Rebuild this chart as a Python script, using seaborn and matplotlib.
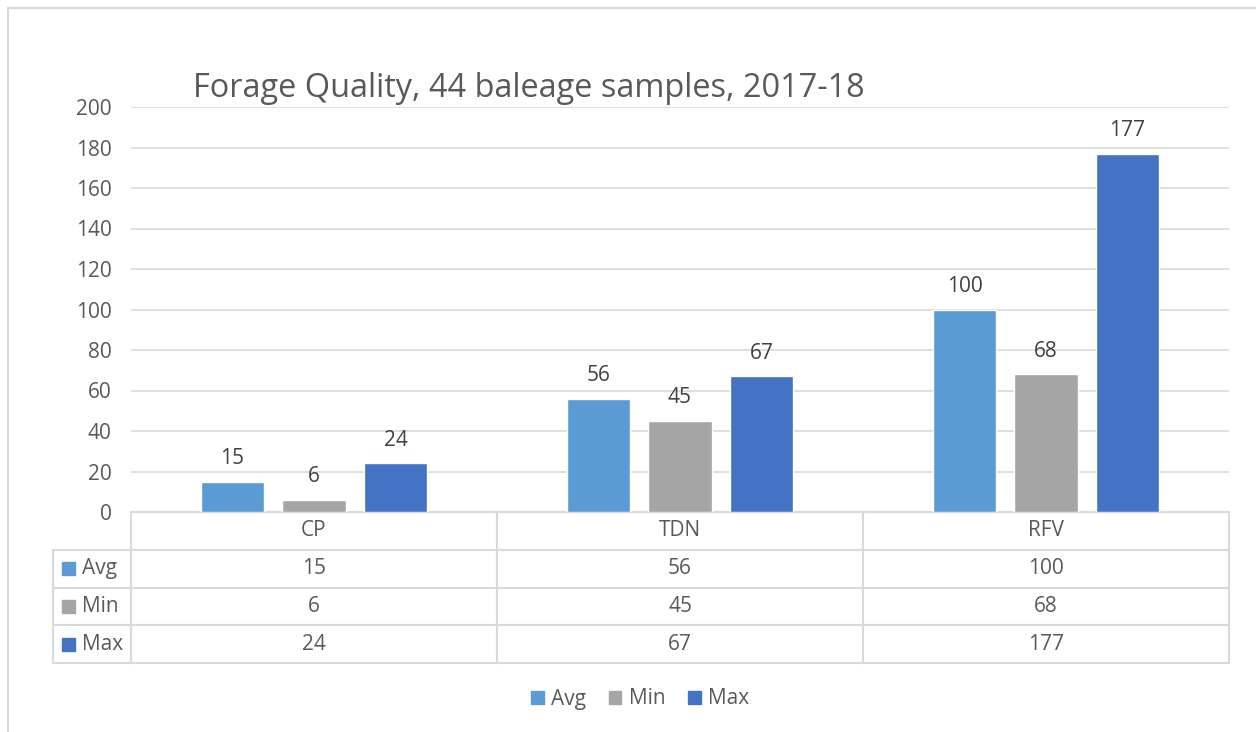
import numpy as np
import pandas as pd
import matplotlib.pyplot as plt
import seaborn as sns
from matplotlib.patches import Rectangle

# data
categories = ["CP", "TDN", "RFV"]
series = ["Avg", "Min", "Max"]
avg_vals = [15, 56, 100]
min_vals = [6, 45, 68]
max_vals = [24, 67, 177]
yticks = [0, 20, 40, 60, 80, 100, 120, 140, 160, 180, 200]
title = "Forage Quality, 44 baleage samples, 2017-18"

colors = ["#5B9BD5", "#A5A5A5", "#4472C4"]
txt = "#595959"
grid = "#D9D9D9"
fs = 15

sns.set_theme(style="white")
plt.rcParams["font.family"] = ["Open Sans", "DejaVu Sans"]

df = pd.DataFrame({
    "cat": categories * 3,
    "series": [s for s in series for _ in categories],
    "value": avg_vals + min_vals + max_vals,
})

fig = plt.figure(figsize=(12.56, 7.32), dpi=100)
ax = fig.add_axes([131 / 1256, 1 - 512 / 732, 1098 / 1256, 405 / 732])

sns.barplot(data=df, x="cat", y="value", hue="series", palette=colors,
            width=0.668, gap=0.215, saturation=1, ax=ax, legend=False,
            zorder=3, errorbar=None)

for c in ax.containers:
    ax.bar_label(c, padding=9, fontsize=fs, color="#404040")

ax.set_ylim(0, 200)
ax.set_yticks(yticks)
ax.set_xlim(-0.5, 2.5)
ax.yaxis.grid(True, color=grid, linewidth=1.2, zorder=0)
ax.set_axisbelow(True)
ax.set_xlabel("")
ax.set_ylabel("")
ax.set_xticks([])
ax.tick_params(axis="y", length=0, pad=14, labelsize=fs, labelcolor=txt)
for s in ax.spines.values():
    s.set_visible(False)

# data table below the axis
values = [avg_vals, min_vals, max_vals]
cell_text = [[str(v) for v in row] for row in values]
lab_w = 78 / 1098
tab_h = 151 / 405
tbl = ax.table(cellText=cell_text, rowLabels=series,
               colLabels=categories, colWidths=[1 / 3] * 3,
               cellLoc="center", rowLoc="left",
               bbox=[0, -tab_h, 1, tab_h])
tbl._autoColumns = []
tbl.auto_set_font_size(False)
tbl.set_fontsize(fs)
for (r, c), cell in tbl.get_celld().items():
    cell.set_edgecolor(grid)
    cell.set_linewidth(1.5)
    cell.get_text().set_color(txt)
    if c == -1:
        cell.set_width(lab_w)
        cell.PAD = 0.37

# legend keys inside row label cells
row_h = tab_h / 4
kw, kh = 13 / 1098, 13 / 405
for i, col in enumerate(colors):
    yc = -row_h * (i + 1.5)
    ax.add_patch(Rectangle((-69 / 1098, yc - kh / 2), kw, kh,
                           transform=ax.transAxes, color=col, clip_on=False))

# bottom legend
handles = [Rectangle((0, 0), 1, 1, color=c) for c in colors]
fig.legend(handles, series, loc="center", bbox_to_anchor=(640 / 1256, 1 - 699 / 732),
           ncol=3, frameon=False, fontsize=fs, handlelength=0.6, handleheight=0.6,
           handletextpad=0.35, columnspacing=1.1, labelcolor=txt)

fig.text(193 / 1256, 1 - 97 / 732, title, fontsize=23.4, color=txt, ha="left", va="baseline")

# chart border
fig.patches.append(Rectangle((8 / 1256, -0.1), 1.2, 1 - 8 / 732 + 0.1,
                             transform=fig.transFigure, fill=False,
                             edgecolor=grid, linewidth=1.5))

fig.savefig("out.png", dpi=100)
